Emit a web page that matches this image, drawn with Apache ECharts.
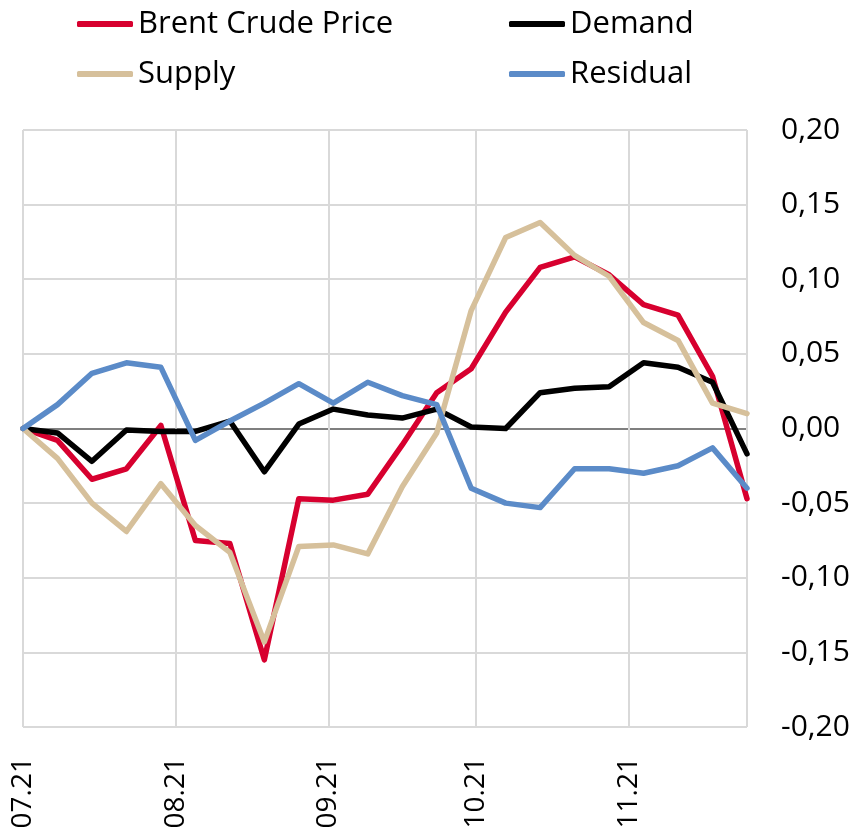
<!DOCTYPE html>
<html>
<head>
<meta charset="utf-8">
<script src="https://cdn.jsdelivr.net/npm/echarts@6/dist/echarts.min.js"></script>
<style>html,body{margin:0;padding:0;background:#fff}#c{width:854px;height:833px}</style>
</head>
<body>
<div id="c"></div>
<script>
const dates = ['2021-07-01','2021-07-08','2021-07-15','2021-07-22','2021-07-29',
  '2021-08-05','2021-08-12','2021-08-19','2021-08-26',
  '2021-09-02','2021-09-09','2021-09-16','2021-09-23','2021-09-30',
  '2021-10-07','2021-10-14','2021-10-21','2021-10-28',
  '2021-11-04','2021-11-11','2021-11-18','2021-11-25'];
const brent =    [0, -0.008, -0.034, -0.027, 0.002, -0.075, -0.077, -0.155, -0.047, -0.048, -0.044, -0.011, 0.024, 0.040, 0.078, 0.108, 0.115, 0.103, 0.083, 0.076, 0.035, -0.047];
const demand =   [0, -0.003, -0.022, -0.001, -0.002, -0.002, 0.005, -0.029, 0.003, 0.013, 0.009, 0.007, 0.013, 0.001, 0.000, 0.024, 0.027, 0.028, 0.044, 0.041, 0.031, -0.017];
const supply =   [0, -0.020, -0.050, -0.069, -0.037, -0.065, -0.083, -0.143, -0.079, -0.078, -0.084, -0.039, -0.003, 0.079, 0.128, 0.138, 0.116, 0.102, 0.071, 0.059, 0.017, 0.010];
const residual = [0, 0.016, 0.037, 0.044, 0.041, -0.008, 0.005, 0.017, 0.030, 0.017, 0.031, 0.022, 0.016, -0.040, -0.050, -0.053, -0.027, -0.027, -0.030, -0.025, -0.013, -0.040];
const seriesNames = ['Brent Crude Price', 'Demand', 'Supply', 'Residual'];
const seriesColors = ['#D7002F', '#000000', '#D6C09B', '#5B8BC8'];
const yTicks = [-0.2, -0.15, -0.1, -0.05, 0, 0.05, 0.1, 0.15, 0.2];

const chart = echarts.init(document.getElementById('c'), null, {renderer: 'canvas'});
const F = '"Open Sans", "Noto Sans", sans-serif';
const seriesData = [brent, demand, supply, residual];

function mkLegend(name, left, top) {
  return {
    data: [name], left: left, top: top, orient: 'horizontal', padding: 0,
    icon: 'roundRect', itemWidth: 56, itemHeight: 6, itemGap: 0,
    textStyle: {fontFamily: F, fontSize: 31, color: '#000', lineHeight: 40, padding: [0,0,0,0]},
    selectedMode: false
  };
}

const splitColors = yTicks.map(v => Math.abs(v) < 1e-9 ? '#7f7f7f' : '#d9d9d9');

chart.setOption({
  animation: false,
  legend: [
    mkLegend(seriesNames[0], 77, 4),
    mkLegend(seriesNames[1], 509, 4),
    mkLegend(seriesNames[2], 77, 54),
    mkLegend(seriesNames[3], 509, 54)
  ],
  grid: {left: 23, right: 107, top: 130, bottom: 106, containLabel: false},
  xAxis: {
    type: 'time',
    min: dates[0], max: dates[dates.length - 1],
    splitNumber: 5,
    axisLine: {show: false}, axisTick: {show: false},
    splitLine: {show: true, lineStyle: {color: '#d9d9d9', width: 2}},
    axisLabel: {
      rotate: 90, margin: 30, fontFamily: F, fontSize: 28, color: '#000',
      showMaxLabel: false,
      formatter: function (val) {
        const d = new Date(val);
        return String(d.getMonth() + 1).padStart(2, '0') + '.' + String(d.getFullYear()).slice(2);
      }
    }
  },
  yAxis: {
    type: 'value', position: 'right',
    min: -0.2, max: 0.2, interval: 0.05,
    axisLine: {show: false}, axisTick: {show: false},
    splitLine: {show: true, lineStyle: {color: splitColors, width: 2}},
    axisLabel: {
      margin: 34, fontFamily: F, fontSize: 30, color: '#000',
      formatter: v => v.toFixed(2).replace('.', ',')
    }
  },
  series: seriesNames.map((n, i) => ({
    name: n, type: 'line', showSymbol: false, symbol: 'none',
    data: dates.map((d, j) => [d, seriesData[i][j]]),
    lineStyle: {color: seriesColors[i], width: 5.5, cap: 'round', join: 'round'},
    itemStyle: {color: seriesColors[i]},
    emphasis: {disabled: true}
  }))
});
</script>
</body>
</html>
